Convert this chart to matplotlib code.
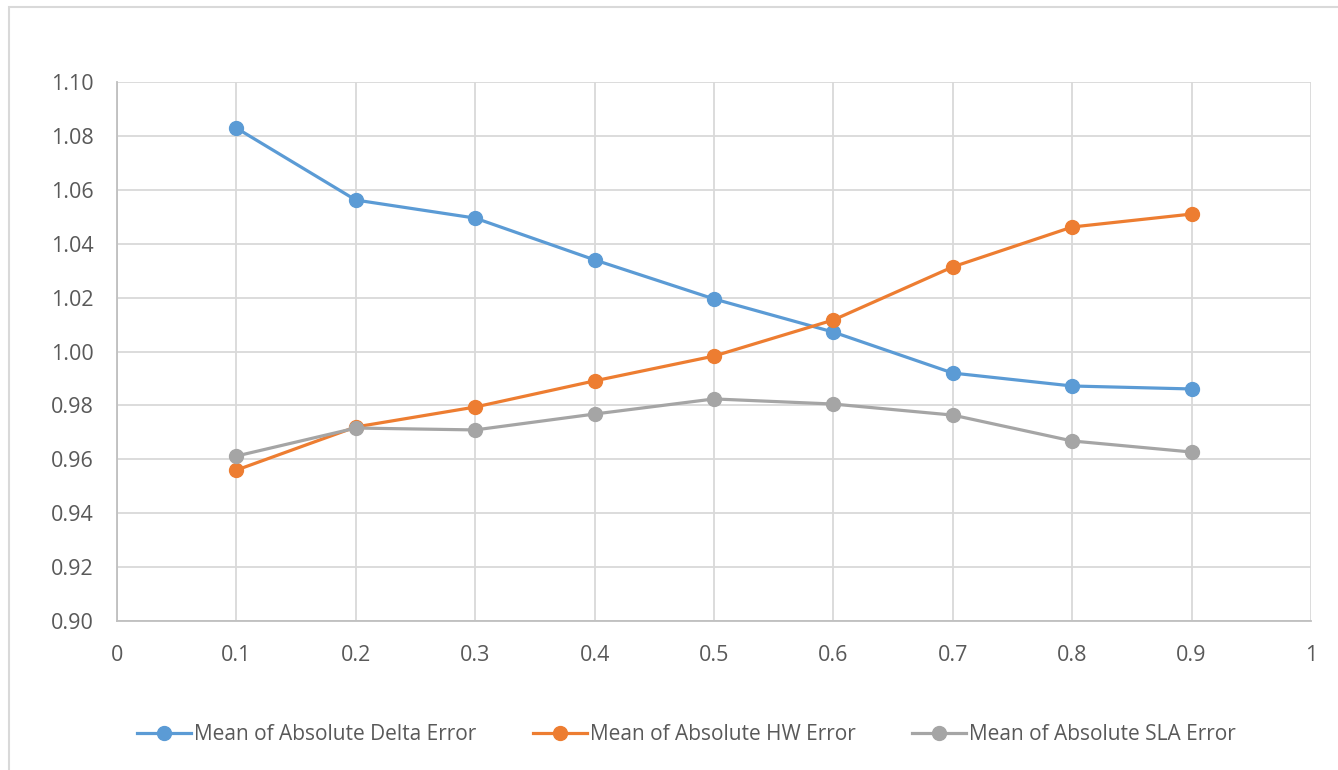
import numpy as np
import matplotlib
matplotlib.use("Agg")
import matplotlib.pyplot as plt
from matplotlib.patches import Rectangle

plt.rcParams['font.family'] = ['Open Sans', 'DejaVu Sans']

# data
alpha = [0.1, 0.2, 0.3, 0.4, 0.5, 0.6, 0.7, 0.8, 0.9]
delta_err = [1.0829, 1.0562, 1.0495, 1.0340, 1.0195, 1.0072, 0.9920, 0.9872, 0.9861]
hw_err = [0.9560, 0.9720, 0.9794, 0.9891, 0.9983, 1.0117, 1.0314, 1.0462, 1.0510]
sla_err = [0.9612, 0.9716, 0.9709, 0.9768, 0.9824, 0.9805, 0.9764, 0.9668, 0.9627]
series_names = ['Mean of Absolute Delta Error', 'Mean of Absolute HW Error', 'Mean of Absolute SLA Error']
colors = ['#5b9bd5', '#ed7d31', '#a5a5a5']

fig = plt.figure(figsize=(13.38, 7.70), dpi=100)
ax = fig.add_axes([117/1338, 1 - 621/770, (1311 - 117)/1338, (621 - 82)/770])

for ys, name, c in zip([delta_err, hw_err, sla_err], series_names, colors):
    ax.plot(alpha, ys, color=c, lw=2.3, marker='o', markersize=10, label=name, zorder=3)

ax.set_xlim(0, 1)
ax.set_ylim(0.90, 1.10)
ax.set_xticks(np.arange(0, 1.01, 0.1))
ax.set_xticklabels(['0'] + ['%.1f' % v for v in np.arange(0.1, 0.95, 0.1)] + ['1'])
ax.set_yticks(np.arange(0.90, 1.101, 0.02))
ax.set_yticklabels(['%.2f' % v for v in np.arange(0.90, 1.101, 0.02)])
ax.grid(True, color='#d9d9d9', lw=1.3)
ax.tick_params(length=0, labelsize=15.5, labelcolor='#595959')
ax.tick_params(axis='x', pad=17)
ax.tick_params(axis='y', pad=17)
for s in ['top', 'right']:
    ax.spines[s].set_visible(False)
for s in ['left', 'bottom']:
    ax.spines[s].set_color('#bfbfbf')
    ax.spines[s].set_linewidth(1.3)

fig.legend(loc='center', bbox_to_anchor=(0.513, 1 - 735/770), ncol=3, frameon=False,
           fontsize=15, handlelength=2.6, columnspacing=2.7, handletextpad=0.15,
           labelcolor='#595959')

# outer chart border
fig.patches.append(Rectangle((9/1338, -0.05), 1.1, 1 - 7/770 + 0.05, transform=fig.transFigure,
                             fill=False, edgecolor='#d9d9d9', lw=1.5))

fig.savefig('out.png', dpi=100)
